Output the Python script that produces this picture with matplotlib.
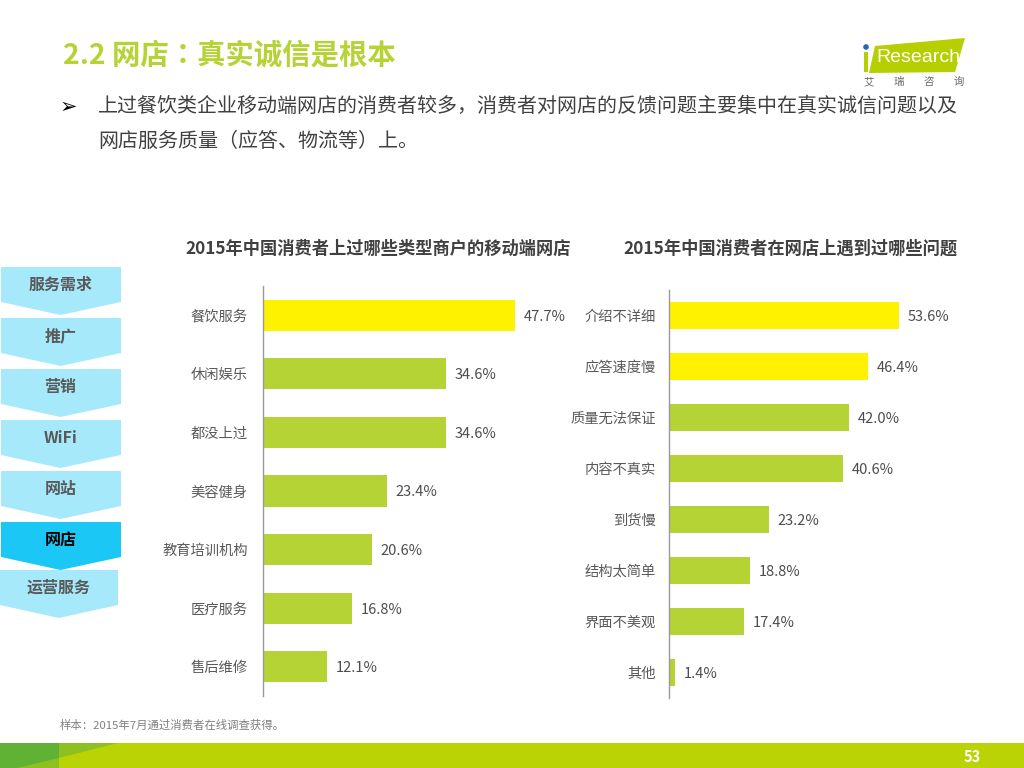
#!/usr/bin/env python
import matplotlib
matplotlib.use('Agg')
import matplotlib.pyplot as plt
from matplotlib.patches import Polygon, Rectangle, Circle

plt.rcParams['font.family'] = ['Noto Sans CJK SC', 'DejaVu Sans']

GREEN = '#b5d334'
YELLOW = '#fff200'
GREY = '#595959'
# TC font keeps the title colon centred like the slide
CENTRED = ['Noto Sans CJK TC', 'DejaVu Sans']

title = '2.2 网店：真实诚信是根本'
bullet_lines = ['上过餐饮类企业移动端网店的消费者较多，消费者对网店的反馈问题主要集中在真实诚信问题以及',
                '网店服务质量（应答、物流等）上。']

left_title = '2015年中国消费者上过哪些类型商户的移动端网店'
left_labels = ['餐饮服务', '休闲娱乐', '都没上过', '美容健身', '教育培训机构', '医疗服务', '售后维修']
left_values = [47.7, 34.6, 34.6, 23.4, 20.6, 16.8, 12.1]
left_hilite = 1

right_title = '2015年中国消费者在网店上遇到过哪些问题'
right_labels = ['介绍不详细', '应答速度慢', '质量无法保证', '内容不真实', '到货慢', '结构太简单', '界面不美观', '其他']
right_values = [53.6, 46.4, 42.0, 40.6, 23.2, 18.8, 17.4, 1.4]
right_hilite = 2

nav_items = ['服务需求', '推广', '营销', 'WiFi', '网站', '网店', '运营服务']
nav_active = '网店'

fig = plt.figure(figsize=(10.24, 7.68), dpi=100)

# page furniture drawn in pixel coordinates
bg = fig.add_axes([0, 0, 1, 1])
bg.set_xlim(0, 1024)
bg.set_ylim(768, 0)
bg.axis('off')

bg.text(63, 56, title, fontsize=20.4, fontweight='bold', color='#b5d334', va='center', family=CENTRED)
bg.text(60, 107, '➢', fontsize=15, color='black', va='center', family=['DejaVu Sans'])
bg.text(98, 106, bullet_lines[0], fontsize=14.4, color='#404040', va='center')
bg.text(98, 141, bullet_lines[1], fontsize=14.4, color='#404040', va='center')

# logo
bg.add_patch(Polygon([(875, 46), (965, 38), (955, 72), (869, 73)], color='#b5cf00', lw=0))
bg.add_patch(Rectangle((864, 52), 4, 20, color='#b5cf00', lw=0))
bg.add_patch(Circle((866, 47), 2.8, color='#2a66b0', lw=0))
bg.text(876, 58, 'Research', fontsize=14, color='white', va='center', family=['Liberation Sans'])
for ch, x in zip('艾瑞咨询', [869, 899, 929, 959]):
    bg.text(x, 82, ch, fontsize=7.5, color='#666666', ha='center', va='center')

# left nav arrows
for i, name in enumerate(nav_items):
    active = name == nav_active
    last = i == len(nav_items) - 1
    top = 267 + 51 * i if not last else 570
    right = 121 if not last else 118
    x0 = 1 if not last else 0
    col = '#1bc8f5' if active else '#a6e9fb'
    bg.add_patch(Polygon([(x0, top), (right, top), (right, top + 35), (right / 2, top + 48), (x0, top + 35)],
                         color=col, lw=0))
    bg.text(right / 2, top + 18, name, fontsize=11.5, fontweight='bold',
            color='black' if active else GREY, ha='center', va='center')

bg.text(60, 725, '样本：2015年7月通过消费者在线调查获得。', fontsize=8.2, color='#808080', va='center')

# footer band
bg.add_patch(Rectangle((0, 743), 1024, 25, color='#b9d305', lw=0))
bg.add_patch(Rectangle((0, 743), 59, 25, color='#5fb233', lw=0))
bg.add_patch(Polygon([(59, 743), (118, 743), (59, 758)], color='#8dc021', lw=0))
bg.add_patch(Polygon([(17, 768), (59, 758), (59, 768)], color='#8dc021', lw=0))
bg.text(972, 757, '53', fontsize=10.5, fontweight='bold', color='white', ha='center', va='center')

bg.text(378, 249, left_title, fontsize=12.4, fontweight='bold', color='#404040', ha='center', va='center')
bg.text(790.5, 249, right_title, fontsize=12.45, fontweight='bold', color='#404040', ha='center', va='center')


def draw_bars(rect, labels, values, hilite, xmax, pad):
    ax = fig.add_axes(rect)
    ax.patch.set_alpha(0)
    colors = [YELLOW if i < hilite else GREEN for i in range(len(values))]
    ax.barh(range(len(values)), values, height=0.53, color=colors)
    ax.set_ylim(len(values) - 0.5, -0.5)
    ax.set_xlim(0, xmax)
    ax.set_xticks([])
    ax.set_yticks(range(len(labels)), labels)
    ax.tick_params(axis='y', length=0, pad=pad, labelsize=10.3, labelcolor=GREY)
    for s in ['top', 'right', 'bottom']:
        ax.spines[s].set_visible(False)
    ax.spines['left'].set_color('#999999')
    ax.spines['left'].set_linewidth(1)
    for i, v in enumerate(values):
        ax.annotate('%.1f%%' % v, (v, i), xytext=(6.5, -1), textcoords='offset points',
                    va='center', fontsize=10.5, color='#4d4d4d')


def px_rect(x0, x1, y0, y1):
    return [x0 / 1024, 1 - y1 / 768, (x1 - x0) / 1024, (y1 - y0) / 768]


draw_bars(px_rect(263, 563, 286, 696), left_labels, left_values, left_hilite, 300 / 5.28, 11)
draw_bars(px_rect(669, 969, 290, 698), right_labels, right_values, right_hilite, 300 / 4.29, 9.5)

fig.savefig('out.png', dpi=100)
plt.close()
